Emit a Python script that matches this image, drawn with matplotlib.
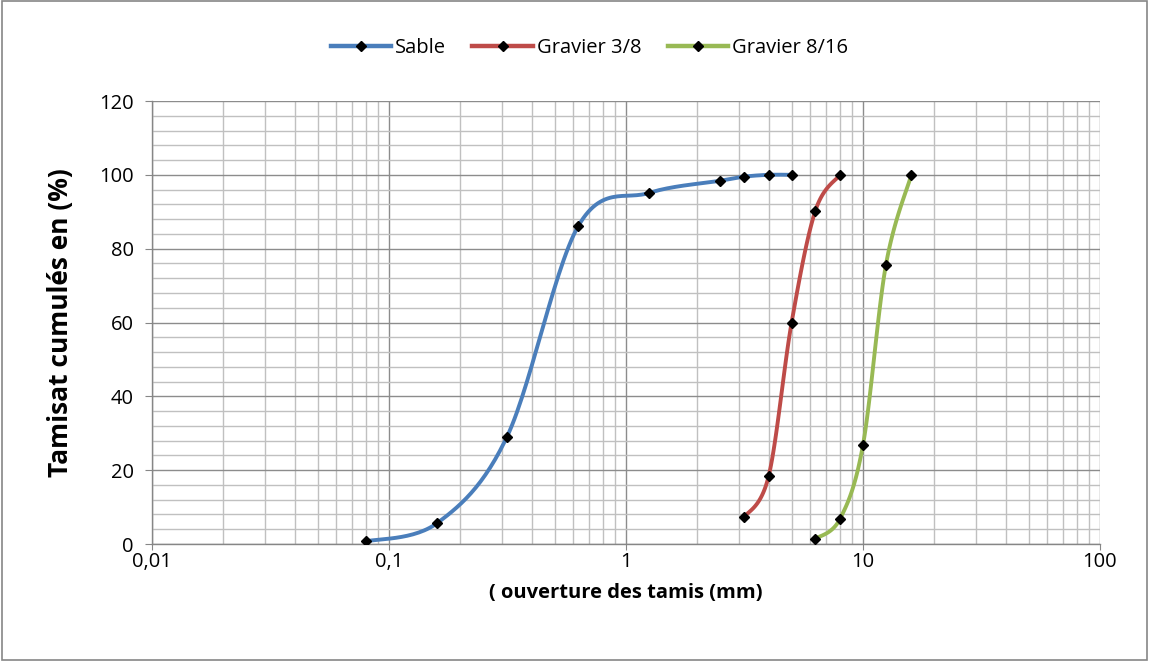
import numpy as np
import matplotlib
matplotlib.use("Agg")
import matplotlib.pyplot as plt
from matplotlib.ticker import FixedLocator, LogLocator, MultipleLocator, NullFormatter

sable_x = [0.08, 0.16, 0.315, 0.63, 1.25, 2.5, 3.15, 4, 5]
sable_y = [0.7, 5.7, 29.1, 86.2, 95.1, 98.4, 99.5, 100, 100]
g38_x = [3.15, 4, 5, 6.3, 8]
g38_y = [7.2, 18.4, 60.0, 90.3, 100]
g816_x = [6.3, 8, 10, 12.5, 16]
g816_y = [1.4, 6.8, 26.8, 75.6, 100]

names = ["Sable", "Gravier 3/8", "Gravier 8/16"]
colors = ["#4a7ebb", "#be4b48", "#98b954"]
x_ticks = [0.01, 0.1, 1, 10, 100]
x_ticklabels = ["0,01", "0,1", "1", "10", "100"]

plt.rcParams['font.family'] = ['Open Sans', 'DejaVu Sans']


def smooth(xs, ys, n=30):
    u = np.log10(np.asarray(xs, float))
    v = np.asarray(ys, float)
    P = np.column_stack([u, v])
    m = len(P)
    out = [P[0]]
    for i in range(m - 1):
        p0 = P[i - 1] if i > 0 else P[i]
        p1 = P[i]
        p2 = P[i + 1]
        p3 = P[i + 2] if i + 2 < m else P[i + 1]
        c1 = p1 + (p2 - p0) / 6.0
        c2 = p2 - (p3 - p1) / 6.0
        t = np.linspace(0, 1, n)[1:, None]
        b = ((1 - t) ** 3) * p1 + 3 * ((1 - t) ** 2) * t * c1 + 3 * (1 - t) * t ** 2 * c2 + t ** 3 * p2
        out.extend(b)
    out = np.array(out)
    return 10 ** out[:, 0], out[:, 1]


fig = plt.figure(figsize=(11.49, 6.61), dpi=100)
fig.patches.append(plt.Rectangle((0.002, 0.002), 0.996, 0.996, transform=fig.transFigure,
                                 fill=False, edgecolor="#868686", linewidth=1.2))
ax = fig.add_axes([0.1323, 0.177, 0.825, 0.6702])

ax.set_xscale("log")
ax.set_xlim(0.01, 100)
ax.set_ylim(0, 120)

series = [(sable_x, sable_y), (g38_x, g38_y), (g816_x, g816_y)]
for (xs, ys), name, c in zip(series, names, colors):
    sx, sy = smooth(xs, ys)
    ax.plot(sx, sy, color=c, lw=2.8, solid_capstyle="round", zorder=3)
    ax.plot(xs, ys, linestyle="none", marker="D", color="black", ms=5.5, zorder=4)
    ax.plot([], [], color=c, lw=3.2, marker="D", mfc="black", mec="black", ms=5.5, label=name)

ax.xaxis.set_major_locator(FixedLocator(x_ticks))
ax.set_xticklabels(x_ticklabels)
ax.xaxis.set_minor_locator(LogLocator(base=10, subs=np.arange(2, 10)))
ax.xaxis.set_minor_formatter(NullFormatter())
ax.yaxis.set_major_locator(MultipleLocator(20))
ax.yaxis.set_minor_locator(MultipleLocator(4))

ax.grid(which="major", color="#8c8c8c", lw=1.0, zorder=1)
ax.grid(which="minor", color="#c0c0c0", lw=1.0, zorder=0)
ax.set_axisbelow(True)

for s in ["top", "right"]:
    ax.spines[s].set_visible(False)
for s in ["left", "bottom"]:
    ax.spines[s].set_color("#868686")
    ax.spines[s].set_linewidth(1.0)
ax.tick_params(which="major", color="#868686", labelsize=14.5)
ax.tick_params(axis="x", which="major", length=4, pad=2)
ax.tick_params(axis="y", which="major", length=5, pad=8)
ax.tick_params(which="minor", length=0)

ax.set_xlabel("( ouverture des tamis (mm)", fontsize=14.5, fontweight="bold", labelpad=8)
ax.set_ylabel("Tamisat cumulés en (%)", fontsize=19, fontweight="bold", labelpad=18)

fig.legend(loc="center", bbox_to_anchor=(0.513, 0.927), ncol=3, frameon=False,
           fontsize=14.5, handlelength=3.0, columnspacing=1.3, handletextpad=0.2)

fig.savefig("out.png", dpi=100)
